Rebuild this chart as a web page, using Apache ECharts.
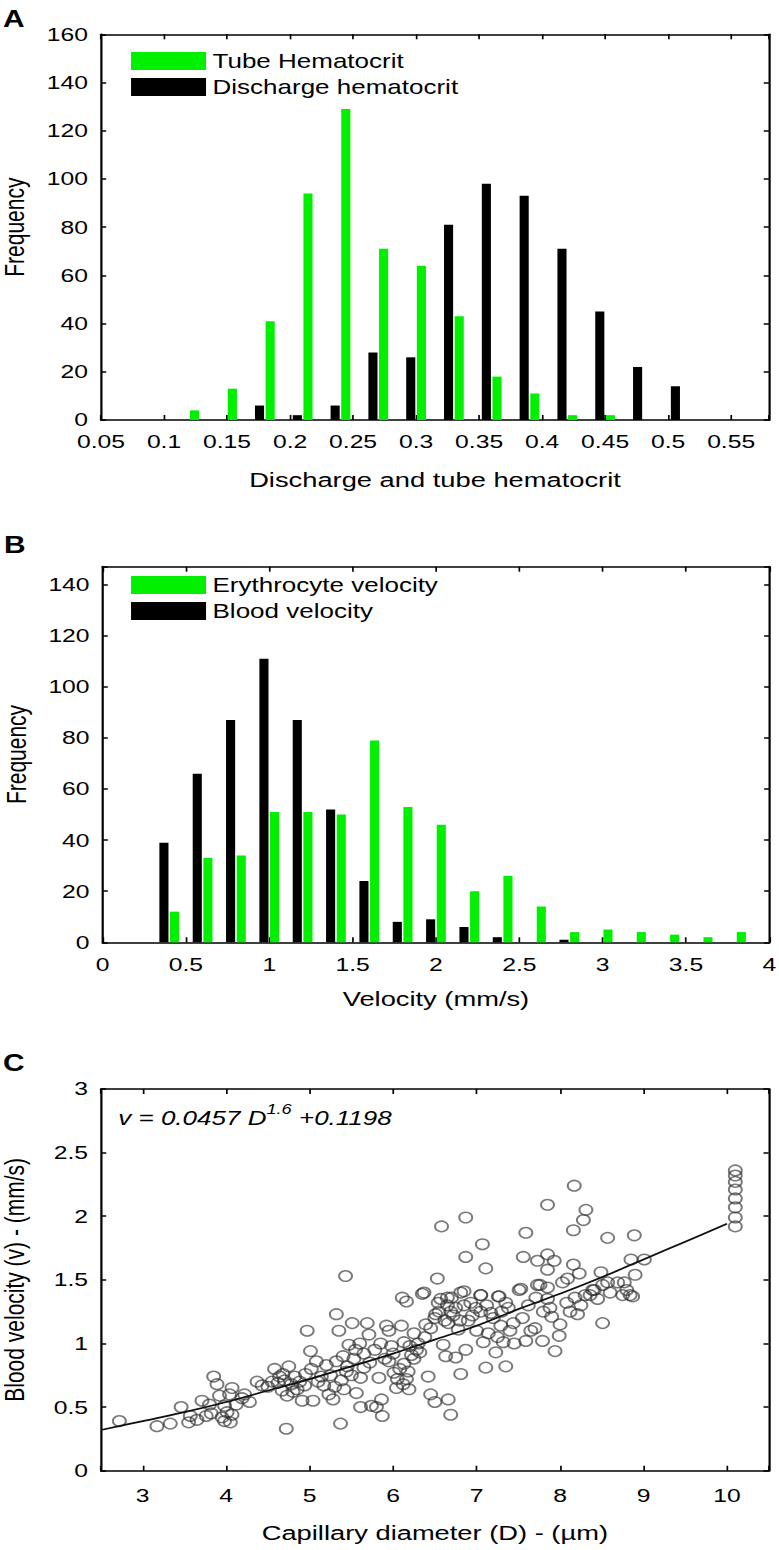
<!DOCTYPE html>
<html><head><meta charset="utf-8">
<script src="https://cdn.jsdelivr.net/npm/echarts@6/dist/echarts.min.js"></script>
<style>
html,body{margin:0;padding:0;background:#fff;overflow:hidden}
#c{width:599.23px;height:1550px;transform:scaleX(1.3);transform-origin:0 0;}
</style>
</head><body><div id="c"></div>
<script>
// ---------- Panel A : hematocrit histograms ----------
const hctBins = [0.12,0.15,0.18,0.21,0.24,0.27,0.30,0.33,0.36,0.39,0.42,0.45,0.48,0.51];
const tubeHct = [4,13,41,94,129,71,64,43,18,11,2,2,0,0];
const dischargeHct = [0,0,6,2,6,28,26,81,98,93,71,45,22,14];
const hctTickLabels = ['0.05','0.1','0.15','0.2','0.25','0.3','0.35','0.4','0.45','0.5','0.55'];
const freqTickLabelsA = ['0','20','40','60','80','100','120','140','160'];

// ---------- Panel B : velocity histograms ----------
const velBins = [0.4,0.6,0.8,1.0,1.2,1.4,1.6,1.8,2.0,2.2,2.4,2.6,2.8,3.0,3.2,3.4,3.6,3.8];
const erythVel = [12,33,34,51,51,50,79,53,46,20,26,14,4,5,4,3,2,4];
const bloodVel = [39,66,87,111,87,52,24,8,9,6,2,0,1,0,0,0,0,0];
const velTickLabels = ['0','0.5','1','1.5','2','2.5','3','3.5','4'];
const freqTickLabelsB = ['0','20','40','60','80','100','120','140'];

// ---------- Panel C : velocity vs diameter ----------
const capPoints = [
[8.17,2.24],[7.85,2.09],[8.31,2.05],[8.28,1.97],[8.16,1.89],[6.87,1.99],[6.58,1.92],[7.59,1.87],[8.57,1.83],[8.89,1.85],
[7.07,1.78],[6.87,1.68],[7.11,1.59],[7.56,1.68],[7.73,1.65],[7.85,1.70],[7.93,1.65],[7.85,1.58],[8.16,1.62],[8.23,1.55],
[8.09,1.51],[8.49,1.56],[8.57,1.48],[8.85,1.66],[9.01,1.66],[8.90,1.54],[8.77,1.48],[6.53,1.51],[6.37,1.40],[6.85,1.41],
[7.53,1.43],[7.73,1.46],[7.85,1.44],[8.41,1.42],[6.11,1.36],[6.65,1.36],[7.05,1.38],[7.27,1.37],
[10.1,2.36],[10.1,2.32],[10.1,2.27],[10.1,2.21],[10.1,2.14],[10.1,2.07],[10.1,1.99],[10.1,1.92],[5.43,1.53],
[2.72,0.39],[3.17,0.35],[3.33,0.37],[3.46,0.50],[3.55,0.38],[3.57,0.43],[3.71,0.55],[3.76,0.43],[3.80,0.52],[3.85,0.74],
[3.89,0.68],[3.92,0.59],[3.98,0.51],[3.98,0.39],[4.01,0.46],[4.04,0.60],[4.07,0.65],[4.19,0.57],[4.07,0.44],[4.28,0.54],
[4.37,0.70],[4.43,0.67],[4.58,0.80],[4.64,0.74],[4.70,0.71],[4.67,0.63],[4.73,0.59],[4.72,0.33],[4.75,0.82],[4.82,0.74],
[4.85,0.64],[4.91,0.55],[4.94,0.67],[4.97,1.10],[5.01,0.94],[5.04,0.55],[5.08,0.86],[5.14,0.74],[5.17,0.67],[5.23,0.60],
[5.28,0.56],[5.32,1.23],[5.32,0.86],[5.35,1.10],[5.37,0.37],[5.38,0.71],[5.41,0.64],[5.44,0.78],[5.47,0.99],[5.51,1.16],
[5.53,0.88],[5.56,0.61],[5.61,0.73],[5.65,0.81],[5.69,1.16],[5.71,1.07],[5.61,0.50],[5.74,0.51],[5.80,0.50],[5.83,0.73],
[5.86,0.56],[5.87,0.43],[5.92,1.14],[5.98,0.98],[5.95,0.86],[6.01,0.77],[6.04,0.65],[6.10,1.14],[6.13,1.01],[6.13,0.84],
[6.16,0.72],[6.19,0.64],[6.22,0.91],[6.25,1.08],[6.28,0.95],[6.35,1.39],[6.16,1.33],[6.39,1.15],[6.42,0.74],[6.45,0.60],
[6.50,0.54],[6.51,1.23],[6.54,1.32],[6.57,1.35],[6.60,0.99],[6.63,0.90],[6.66,1.16],[6.69,1.25],[6.70,1.36],[6.75,0.89],
[6.78,1.11],[6.81,1.40],[6.81,0.76],[6.66,0.56],[6.69,0.44],[6.87,0.95],[6.90,1.18],[6.93,1.32],[6.99,1.28],[7.05,1.38],
[7.08,1.01],[7.11,0.81],[7.14,1.08],[7.17,1.24],[7.23,0.93],[7.26,1.37],[7.29,1.14],[7.32,1.01],[7.35,0.82],[7.38,1.28],
[7.44,1.16],[7.51,1.42],[7.59,1.02],[7.65,1.10],[7.71,1.36],[7.76,1.46],[7.79,1.02],[7.88,1.28],[7.90,1.21],[7.94,0.94],
[7.99,1.06],[8.03,1.48],[8.12,1.25],[8.18,1.36],[8.21,1.23],[8.36,1.38],[8.39,1.42],[8.51,1.16],[8.75,1.38],[8.84,1.38],
[8.87,1.37],[8.51,1.46],[8.69,1.48],
[3.65,0.40],[3.82,0.45],[3.95,0.42],[4.05,0.38],[4.12,0.52],[4.22,0.60],[4.50,0.66],[4.55,0.70],[4.62,0.69],[4.68,0.76],
[4.78,0.68],[4.80,0.62],[4.88,0.70],[4.95,0.76],[5.02,0.80],[5.10,0.70],[5.20,0.83],[5.25,0.75],[5.30,0.66],[5.40,0.90],
[5.45,0.82],[5.50,0.75],[5.55,0.95],[5.60,1.00],[5.65,0.92],[5.72,0.85],[5.78,0.95],[5.85,1.00],[5.90,0.88],[5.95,1.10],
[6.00,0.92],[6.05,0.72],[6.08,0.80],[6.12,0.68],[6.18,0.78],[6.20,0.98],[6.25,0.88],[6.30,1.00],[6.32,0.93],[6.38,1.05],
[6.45,1.12],[6.50,1.20],[6.55,1.25],[6.62,1.18],[6.65,1.30],[6.72,1.22],[6.75,1.28],[6.80,1.18],[6.85,1.30],[6.95,1.22],
[7.00,1.10],[7.05,1.25],[7.12,1.30],[7.20,1.20],[7.25,1.05],[7.30,1.25],[7.35,1.32],[7.40,1.10],[7.45,1.00],[7.55,1.20],
[7.62,1.30],[7.70,1.12],[7.80,1.25],[7.85,1.35],[8.00,1.15],[8.08,1.32],[8.25,1.30],[8.30,1.38],[8.45,1.35],[8.60,1.40],[8.80,1.42]
];
const fitD = [2.5,3,3.5,4,4.5,5,5.5,6,6.5,7,7.5,8,8.5,9,9.5,10];
const fitV = [0.32,0.39,0.46,0.54,0.63,0.72,0.82,0.92,1.03,1.14,1.27,1.39,1.52,1.66,1.80,1.94];
const diamTickLabels = ['3','4','5','6','7','8','9','10'];
const bvTickLabels = ['0','0.5','1','1.5','2','2.5','3'];

// ---------- styling ----------
const FONT = '"Liberation Sans", Arial, sans-serif';
const INK = '#000';
const GREEN = '#00f000';
const pick = (labels) => (v) => { const s = String(+(+v).toFixed(4)); return labels.indexOf(s) >= 0 ? s : ''; };
const axisLine = {show: true, onZero: false, lineStyle: {color: INK, width: 1.7}};
const tickX = {show: true, inside: true, length: 5, lineStyle: {color: INK, width: 1.3}};
const tickY = {show: true, inside: true, length: 4, lineStyle: {color: INK, width: 1.5}};
const lbl = (labels, margin) => ({show: true, color: INK, fontFamily: FONT, fontSize: 19, margin: margin, formatter: pick(labels)});
const nameStyle = {color: INK, fontFamily: FONT, fontSize: 21};

function xPair(grid, min, max, interval, labels, name, nameGap, margin, extra) {
  const base = Object.assign({type: 'value', gridIndex: grid, min: min, max: max, interval: interval,
    axisLine: axisLine, axisTick: tickX, splitLine: {show: false}}, extra || {});
  return [
    Object.assign({}, base, {position: 'bottom', axisLabel: lbl(labels, margin), name: name,
      nameLocation: 'middle', nameGap: nameGap, nameTextStyle: nameStyle}),
    Object.assign({}, base, {position: 'top', axisLabel: {show: false}})
  ];
}
function yPair(grid, min, max, interval, labels, name, nameGap) {
  const base = {type: 'value', gridIndex: grid, min: min, max: max, interval: interval,
    axisLine: axisLine, axisTick: tickY, splitLine: {show: false}};
  return [
    Object.assign({}, base, {position: 'left', axisLabel: lbl(labels, 10), name: name,
      nameLocation: 'middle', nameGap: nameGap, nameTextStyle: nameStyle}),
    Object.assign({}, base, {position: 'right', axisLabel: {show: false}})
  ];
}

const xAxes = [].concat(
  xPair(0, 0.05, 0.58, 0.05, hctTickLabels, 'Discharge and tube hematocrit', 49, 12),
  xPair(1, 0, 4, 0.5, velTickLabels, 'Velocity (mm/s)', 46, 13),
  xPair(2, 2.5, 10.5, null, diamTickLabels, 'Capillary diameter (D) - (\u00b5m)', 51, 15, {minInterval: 1, maxInterval: 1, splitNumber: 8})
);
xAxes.forEach(a => { if (a.interval === null) delete a.interval; });
const yAxes = [].concat(
  yPair(0, 0, 160, 20, freqTickLabelsA, 'Frequency', 56),
  yPair(1, 0, 147, 20, freqTickLabelsB, 'Frequency', 56),
  yPair(2, 0, 3, 0.5, bvTickLabels, 'Blood velocity (v) - (mm/s)', 56)
);

const legendBase = {orient: 'vertical', icon: 'rect', itemWidth: 57.7, itemHeight: 18, itemGap: 6, padding: 0,
  left: 100.8, textStyle: {color: INK, fontFamily: FONT, fontSize: 20}, selectedMode: false};

const gridBase = {outerBoundsMode: 'none', containLabel: false};
const option = {
  animation: false,
  backgroundColor: '#fff',
  textStyle: {fontFamily: FONT},
  grid: [
    Object.assign({left: 77.7, width: 513.8, top: 34.3, height: 385.7}, gridBase),
    Object.assign({left: 78.9, width: 512.9, top: 566.7, height: 375.6}, gridBase),
    Object.assign({left: 77.7, width: 513.6, top: 1089, height: 381.7}, gridBase)
  ],
  xAxis: xAxes,
  yAxis: yAxes,
  legend: [
    Object.assign({}, legendBase, {data: ['Tube Hematocrit', 'Discharge hematocrit'], top: 51}),
    Object.assign({}, legendBase, {data: ['Erythrocyte velocity', 'Blood velocity'], top: 575})
  ],
  graphic: [
    {type: 'text', left: 2.3, top: 8, style: {text: 'A', font: 'bold 23px ' + FONT, fill: '#000'}},
    {type: 'text', left: 3, top: 534, style: {text: 'B', font: 'bold 23px ' + FONT, fill: '#000'}},
    {type: 'text', left: 2.3, top: 1052, style: {text: 'C', font: 'bold 23px ' + FONT, fill: '#000'}},
    {type: 'text', left: 91, top: 1102, style: {
      text: '{m|v = 0.0457 D}{s|1.6}{m| +0.1198}',
      fill: INK,
      rich: {
        m: {fontSize: 20, fontStyle: 'italic', fontFamily: FONT, lineHeight: 26, verticalAlign: 'bottom', fill: INK},
        s: {fontSize: 14, fontStyle: 'italic', fontFamily: FONT, lineHeight: 26, verticalAlign: 'top', fill: INK}
      }}}
  ],
  series: [
    {type: 'bar', name: 'Discharge hematocrit', xAxisIndex: 0, yAxisIndex: 0, barWidth: 7, barGap: '17%',
      itemStyle: {color: '#000'}, data: hctBins.map((b, i) => [b, dischargeHct[i]])},
    {type: 'bar', name: 'Tube Hematocrit', xAxisIndex: 0, yAxisIndex: 0, barWidth: 7, barGap: '17%',
      itemStyle: {color: GREEN}, data: hctBins.map((b, i) => [b, tubeHct[i]])},
    {type: 'bar', name: 'Blood velocity', xAxisIndex: 2, yAxisIndex: 2, barWidth: 7, barGap: '17%',
      itemStyle: {color: '#000'}, data: velBins.map((b, i) => [b, bloodVel[i]])},
    {type: 'bar', name: 'Erythrocyte velocity', xAxisIndex: 2, yAxisIndex: 2, barWidth: 7, barGap: '17%',
      itemStyle: {color: GREEN}, data: velBins.map((b, i) => [b, erythVel[i]])},
    {type: 'scatter', name: 'Vessels', xAxisIndex: 4, yAxisIndex: 4, symbol: 'circle', symbolSize: [10, 10.5],
      itemStyle: {color: 'rgba(255,255,255,0)', borderColor: 'rgba(45,45,45,0.8)', borderWidth: 1.5},
      data: capPoints},
    {type: 'line', name: 'Fit', xAxisIndex: 4, yAxisIndex: 4, smooth: 0.3, showSymbol: false, symbol: 'none',
      lineStyle: {color: '#111', width: 1.7}, data: fitD.map((d, i) => [d, fitV[i]]), z: 5}
  ]
};
const chart = echarts.init(document.getElementById('c'), null, {renderer: 'svg'});
chart.setOption(option);
</script>
</body></html>
